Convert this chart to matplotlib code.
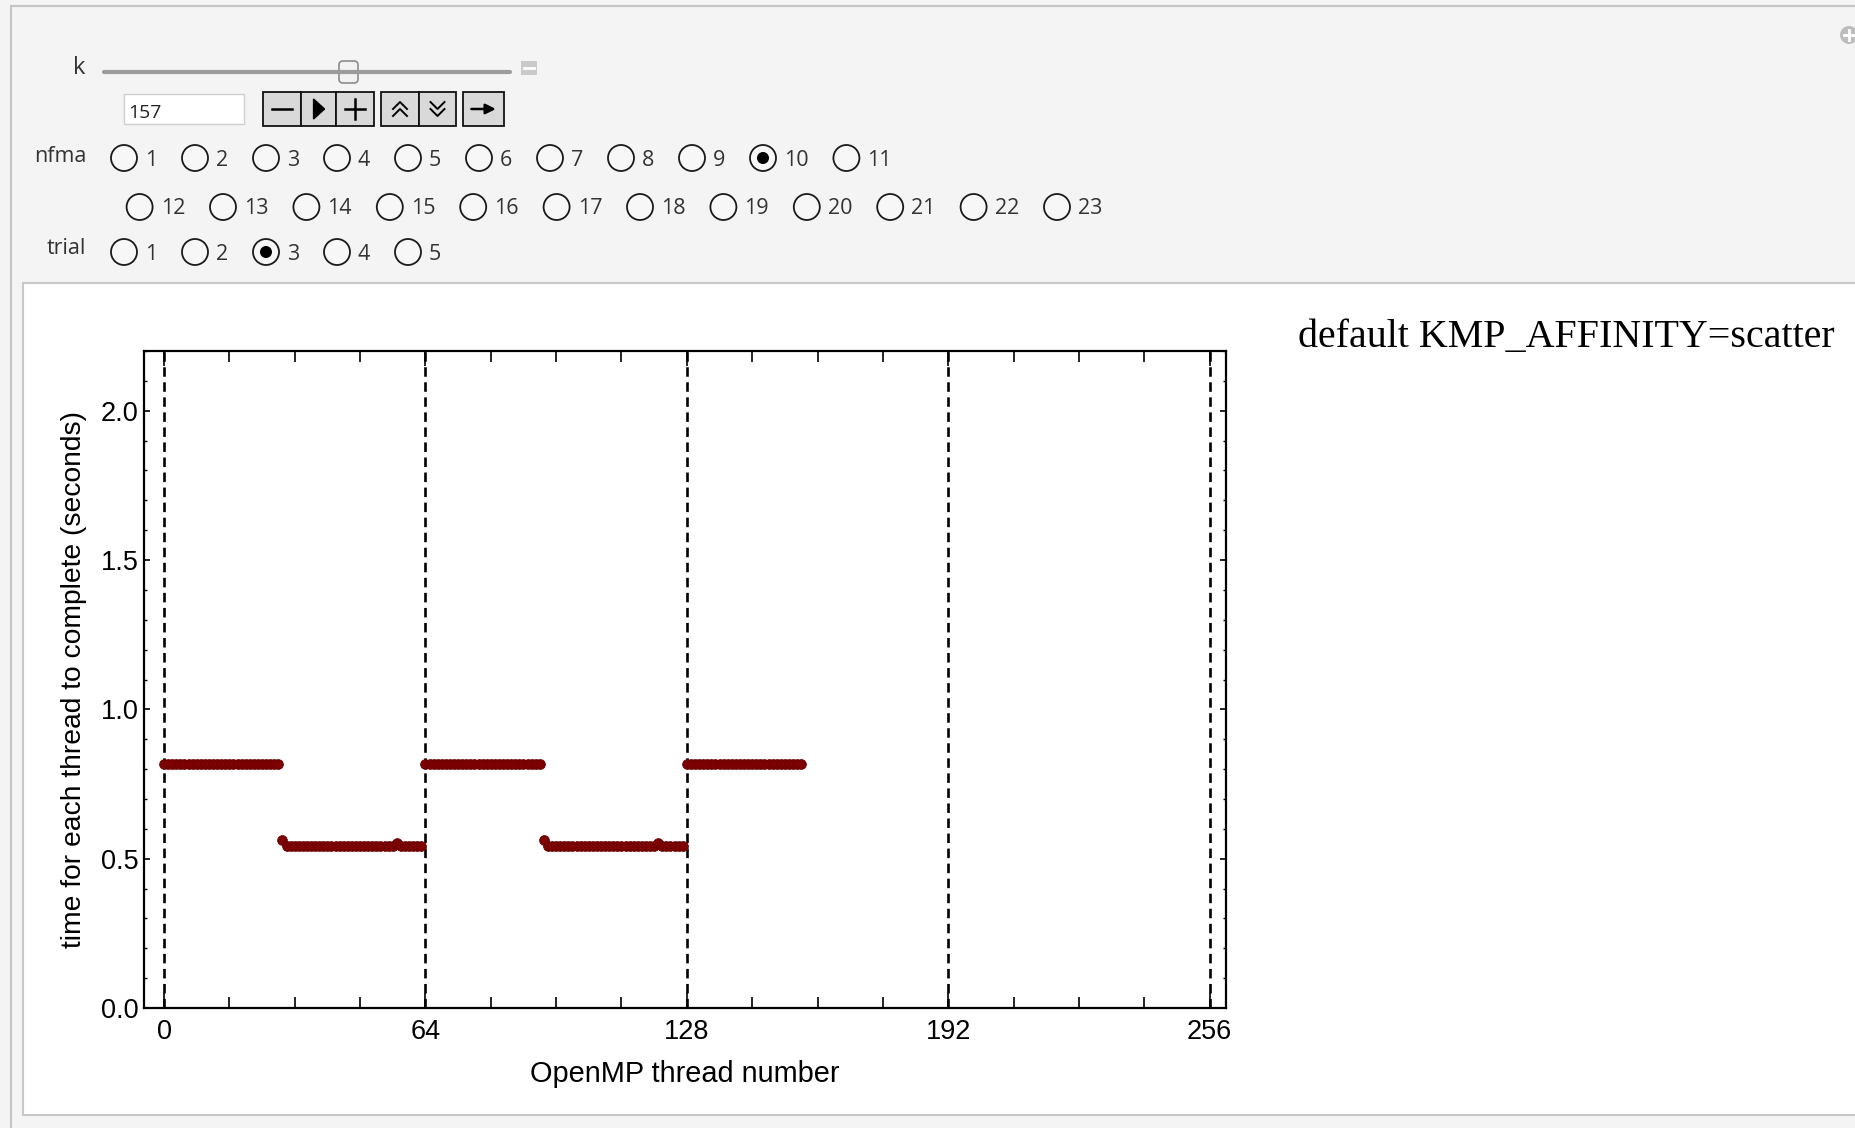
import matplotlib.pyplot as plt
from matplotlib.patches import Rectangle, Circle, FancyBboxPatch, Polygon
from matplotlib.ticker import MultipleLocator, FormatStrFormatter

plt.rcParams['font.family'] = ['Liberation Sans', 'DejaVu Sans']

# time for each OpenMP thread (seconds), threads 0..156
thread = list(range(157))
time_s = [
    # threads 0-63
    0.816, 0.816, 0.816, 0.816, 0.816, 0.816, 0.816, 0.816, 0.816, 0.816, 0.816, 0.816, 0.816, 0.816, 0.816, 0.816,
    0.816, 0.816, 0.816, 0.816, 0.816, 0.816, 0.816, 0.816, 0.816, 0.816, 0.816, 0.816, 0.816, 0.562, 0.542, 0.542,
    0.542, 0.542, 0.542, 0.542, 0.542, 0.542, 0.542, 0.542, 0.542, 0.542, 0.542, 0.542, 0.542, 0.542, 0.542, 0.542,
    0.542, 0.542, 0.542, 0.542, 0.542, 0.542, 0.542, 0.542, 0.542, 0.551, 0.542, 0.542, 0.542, 0.542, 0.542, 0.542,
    # threads 64-127
    0.816, 0.816, 0.816, 0.816, 0.816, 0.816, 0.816, 0.816, 0.816, 0.816, 0.816, 0.816, 0.816, 0.816, 0.816, 0.816,
    0.816, 0.816, 0.816, 0.816, 0.816, 0.816, 0.816, 0.816, 0.816, 0.816, 0.816, 0.816, 0.816, 0.562, 0.542, 0.542,
    0.542, 0.542, 0.542, 0.542, 0.542, 0.542, 0.542, 0.542, 0.542, 0.542, 0.542, 0.542, 0.542, 0.542, 0.542, 0.542,
    0.542, 0.542, 0.542, 0.542, 0.542, 0.542, 0.542, 0.542, 0.542, 0.551, 0.542, 0.542, 0.542, 0.542, 0.542, 0.542,
    # threads 128-156
    0.816, 0.816, 0.816, 0.816, 0.816, 0.816, 0.816, 0.816, 0.816, 0.816, 0.816, 0.816, 0.816, 0.816, 0.816, 0.816,
    0.816, 0.816, 0.816, 0.816, 0.816, 0.816, 0.816, 0.816, 0.816, 0.816, 0.816, 0.816, 0.816,
]

guide_x = [0, 64, 128, 192, 256]
x_ticks = [0, 64, 128, 192, 256]
x_minor = [16, 32, 48, 80, 96, 112, 144, 160, 176, 208, 224, 240]
y_ticks = [0.0, 0.5, 1.0, 1.5, 2.0]

k_value = 157
nfma_row1 = [1, 2, 3, 4, 5, 6, 7, 8, 9, 10, 11]
nfma_row2 = [12, 13, 14, 15, 16, 17, 18, 19, 20, 21, 22, 23]
nfma_selected = 10
trial_options = [1, 2, 3, 4, 5]
trial_selected = 3

title = "default KMP_AFFINITY=scatter"

W, H = 1855, 1128
fig = plt.figure(figsize=(W / 100, H / 100), dpi=100, facecolor='#f4f4f4')

# overlay in pixel coordinates for the Manipulate panel
ov = fig.add_axes([0, 0, 1, 1])
ov.set_xlim(0, W)
ov.set_ylim(H, 0)
ov.axis('off')

ov.plot([11, W], [6, 6], color='#c4c4c4', lw=1.5)
ov.plot([11, 11], [6, H], color='#c4c4c4', lw=1.5)
ov.add_patch(Rectangle((23, 283), W, 1115 - 283, facecolor='white', edgecolor='#c8c8c8', lw=1.5))

# plus icon top right
ov.add_patch(Circle((1849, 35), 9, facecolor='#bdbdbd', edgecolor='none'))
ov.plot([1844, 1854], [35, 35], color='white', lw=2)
ov.plot([1849, 1849], [30, 40], color='white', lw=2)

ctl_font = 'Open Sans'
ctl_size = 15.5

# slider k
ov.text(79, 68, 'k', fontsize=17, family=ctl_font, ha='center', va='center', color='#333333')
ov.plot([104, 510], [72, 72], color='#9c9c9c', lw=3, solid_capstyle='round')
ov.add_patch(FancyBboxPatch((339, 61), 19, 22, boxstyle='round,pad=0,rounding_size=4',
                            facecolor='#f2f2f2', edgecolor='#8c8c8c', lw=1.2))
ov.add_patch(Rectangle((521, 61), 16, 14, facecolor='#c9c9c9', edgecolor='none'))
ov.plot([524, 534], [68, 68], color='white', lw=2)

# input field
ov.add_patch(Rectangle((124, 94), 120, 30, facecolor='white', edgecolor='#cfcfcf', lw=1))
ov.text(128, 113, str(k_value), fontsize=14, family=ctl_font, ha='left', va='center', color='#222222')

# animation buttons
by0, by1 = 92, 126
groups = [[262.5, 300.7, 336.4, 374.3], [381.4, 418.6, 456.4], [462.9, 504.3]]
for g in groups:
    for a, b in zip(g[:-1], g[1:]):
        ov.add_patch(Rectangle((a, by0), b - a, by1 - by0, facecolor='#d9d9d9', edgecolor='#111111', lw=1.3))
cy = (by0 + by1) / 2
c = (262.5 + 300.7) / 2
ov.plot([c - 10, c + 10], [cy, cy], color='black', lw=1.8)
c = (300.7 + 336.4) / 2
ov.add_patch(Polygon([[c - 5, cy - 10], [c - 5, cy + 10], [c + 6, cy]], closed=True, color='black'))
c = (336.4 + 374.3) / 2
ov.plot([c - 10, c + 10], [cy, cy], color='black', lw=1.8)
ov.plot([c, c], [cy - 10, cy + 10], color='black', lw=1.8)
c = (381.4 + 418.6) / 2
for dy in (-5, 2):
    ov.plot([c - 7, c, c + 7], [cy + dy + 5, cy + dy - 2, cy + dy + 5], color='black', lw=1.4)
c = (418.6 + 456.4) / 2
for dy in (-5, 2):
    ov.plot([c - 7, c, c + 7], [cy + dy - 2, cy + dy + 5, cy + dy - 2], color='black', lw=1.4)
c = (462.9 + 504.3) / 2
ov.annotate('', xy=(c + 15, cy), xytext=(c - 15, cy),
            arrowprops=dict(arrowstyle='-|>', color='black', lw=1.8, mutation_scale=15))


def radio_row(options, x0, y, selected):
    x = x0
    for opt in options:
        ov.add_patch(Circle((x, y), 13, facecolor='#f7f7f7', edgecolor='#1a1a1a', lw=1.3))
        if opt == selected:
            ov.add_patch(Circle((x, y), 6, facecolor='black', edgecolor='none'))
        ov.text(x + 21, y + 2, str(opt), fontsize=ctl_size, family=ctl_font, ha='left', va='center', color='#333333')
        x += 71 if opt < 10 else 83.4


ov.text(86, 157, 'nfma', fontsize=ctl_size, family=ctl_font, ha='right', va='center', color='#333333')
radio_row(nfma_row1, 124, 158, nfma_selected)
radio_row(nfma_row2, 139.6, 207, nfma_selected)
ov.text(86, 249, 'trial', fontsize=ctl_size, family=ctl_font, ha='right', va='center', color='#333333')
radio_row(trial_options, 124, 252, trial_selected)

ov.text(1566, 337, title, fontsize=28.8, family='Liberation Serif', ha='center', va='center', color='black')

# data plot
ax = fig.add_axes([144 / W, 1 - 1008 / H, (1226 - 144) / W, (1008 - 351) / H])
ax.set_facecolor('none')
ax.set_zorder(2)
for gx in guide_x:
    ax.axvline(gx, color='black', lw=1.9, dashes=(3.6, 2.1))
ax.plot(thread, time_s, 'o', color='#7e0000', ms=7, mec='#650000', mew=0.6, clip_on=False)

ax.set_xlim(-4.9, 260.0)
ax.set_ylim(0, 2.2)
ax.set_xticks(x_ticks)
ax.set_xticks(x_minor, minor=True)
ax.set_yticks(y_ticks)
ax.yaxis.set_minor_locator(MultipleLocator(0.1))
ax.yaxis.set_major_formatter(FormatStrFormatter('%.1f'))
ax.tick_params(axis='both', which='both', direction='in', top=True, right=True, colors='black')
ax.tick_params(axis='x', which='major', length=11, width=1.2, labelsize=19.5, pad=8)
ax.tick_params(axis='x', which='minor', length=8, width=1.2)
ax.tick_params(axis='y', which='major', length=4, width=1.2, labelsize=19.5, pad=4)
ax.tick_params(axis='y', which='minor', length=2.5, width=1.0)
for s in ax.spines.values():
    s.set_linewidth(1.6)

ax.set_xlabel('OpenMP thread number', fontsize=20.8, labelpad=11)
ax.set_ylabel('time for each thread to complete (seconds)', fontsize=20.3, labelpad=10)

fig.savefig('out.png', dpi=100, facecolor=fig.get_facecolor())
